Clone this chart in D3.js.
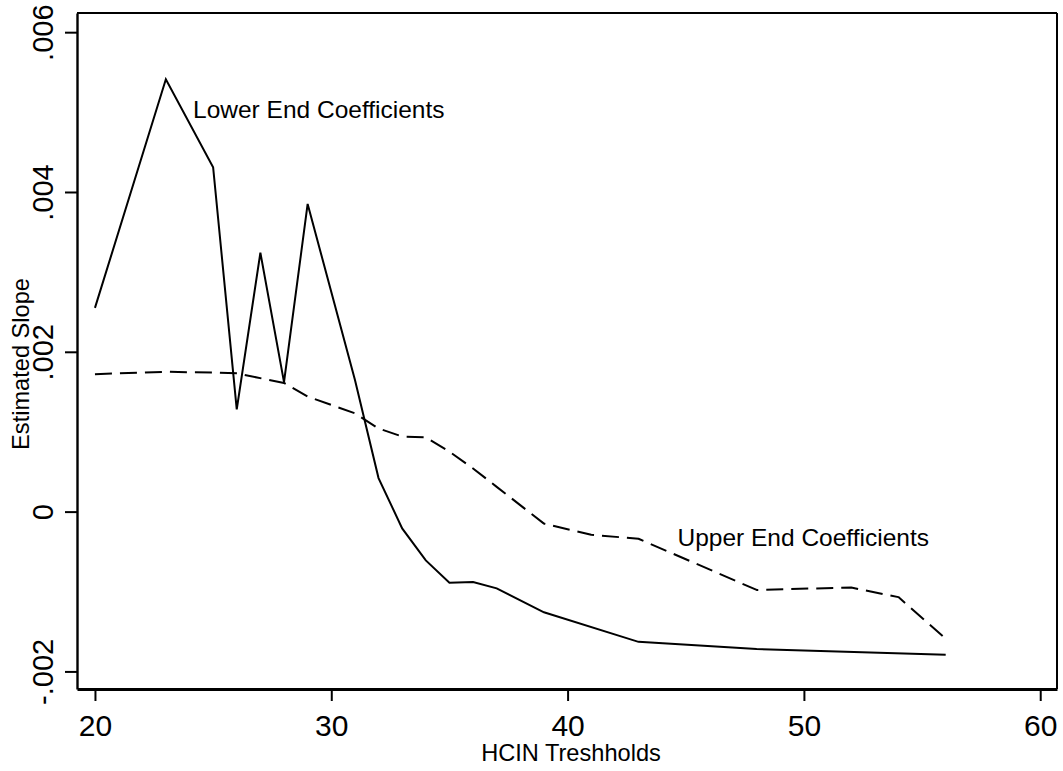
<!DOCTYPE html>
<html>
<head>
<meta charset="utf-8">
<script src="https://cdn.jsdelivr.net/npm/d3@7/dist/d3.min.js"></script>
<style>
  html, body { margin: 0; padding: 0; background: #fff; }
  svg text { font-family: "Liberation Sans", Arial, sans-serif; fill: #000; }
</style>
</head>
<body>
<svg id="chart" width="1063" height="771"></svg>
<script>
// HCIN thresholds and estimated slopes for each end of the distribution
const lowerX = [20, 23, 25, 26, 27, 28, 29, 31, 32, 33, 34, 35, 36, 37, 39, 43, 48, 56];
const lowerY = [0.00255, 0.00541, 0.00431, 0.00128, 0.00324, 0.00162, 0.00385, 0.00165,
                0.00042, -0.00021, -0.00061, -0.00089, -0.00088, -0.00096, -0.00126,
                -0.00163, -0.00172, -0.00179];

const upperX = [20, 23, 25, 26, 28, 29, 31, 32, 33, 34, 35, 36, 37, 39, 41, 43, 48, 52, 54, 56];
const upperY = [0.00172, 0.00175, 0.00174, 0.00173, 0.00161, 0.00144, 0.00123, 0.00104,
                0.00094, 0.00093, 0.00075, 0.00054, 0.00031, -0.00015, -0.00029, -0.00034,
                -0.00098, -0.00095, -0.00107, -0.00159];

const xTicks = [20, 30, 40, 50, 60];
const xTickLabels = ["20", "30", "40", "50", "60"];
const yTicks = [-0.002, 0, 0.002, 0.004, 0.006];
const yTickLabels = ["-.002", "0", ".002", ".004", ".006"];

const xTitle = "HCIN Treshholds";
const yTitle = "Estimated Slope";
const lowerLabel = { text: "Lower End Coefficients", x: 24.15, y: 0.00492 };
const upperLabel = { text: "Upper End Coefficients", x: 44.65, y: -0.00043 };

const W = 1063, H = 771;
const margin = { left: 77, right: 6, top: 13, bottom: 82 };
const svg = d3.select("#chart");

const x = d3.scaleLinear().domain([19.24, 60.71]).range([margin.left, W - margin.right]);
const y = d3.scaleLinear().domain([-0.00222, 0.00624]).range([H - margin.bottom, margin.top]);

// plot frame
svg.append("line").attr("x1", x.range()[0]).attr("x2", x.range()[1])
  .attr("y1", margin.top).attr("y2", margin.top).attr("stroke", "#000").attr("stroke-width", 2);
svg.append("line").attr("x1", W - margin.right).attr("x2", W - margin.right)
  .attr("y1", margin.top).attr("y2", H - margin.bottom).attr("stroke", "#000").attr("stroke-width", 2);

// x axis
const xAxis = svg.append("g")
  .attr("transform", `translate(0,${H - margin.bottom})`)
  .call(d3.axisBottom(x).tickValues(xTicks).tickSize(12).tickSizeOuter(0)
    .tickFormat((d, i) => xTickLabels[i]));
xAxis.select(".domain").attr("stroke-width", 3.2);
xAxis.selectAll(".tick line").attr("stroke-width", 2);
xAxis.selectAll(".tick text")
  .attr("font-size", 30).attr("dy", null).attr("y", 47);

// y axis
const yAxis = svg.append("g")
  .attr("transform", `translate(${margin.left},0)`)
  .call(d3.axisLeft(y).tickValues(yTicks).tickSize(12).tickSizeOuter(0)
    .tickFormat((d, i) => yTickLabels[i]));
yAxis.select(".domain").attr("stroke-width", 2.4);
yAxis.selectAll(".tick line").attr("stroke-width", 2);
yAxis.selectAll(".tick text")
  .attr("font-size", 29).attr("dy", null).attr("x", null)
  .attr("text-anchor", "middle")
  .attr("transform", "translate(-24,0) rotate(-90)");

// axis titles
svg.append("text").attr("x", 571).attr("y", 761)
  .attr("text-anchor", "middle").attr("font-size", 23.6).text(xTitle);
svg.append("text").attr("transform", "translate(29,364) rotate(-90)")
  .attr("text-anchor", "middle").attr("font-size", 23.6).text(yTitle);

// series
const line = d3.line().x(d => x(d[0])).y(d => y(d[1]));
const lowerData = lowerX.map((v, i) => [v, lowerY[i]]);
const upperData = upperX.map((v, i) => [v, upperY[i]]);

svg.append("path").datum(upperData).attr("d", line)
  .attr("fill", "none").attr("stroke", "#000").attr("stroke-width", 2)
  .attr("stroke-dasharray", "17,8").attr("stroke-linejoin", "round");
svg.append("path").datum(lowerData).attr("d", line)
  .attr("fill", "none").attr("stroke", "#000").attr("stroke-width", 2)
  .attr("stroke-linejoin", "miter");

// series labels
[lowerLabel, upperLabel].forEach(l => {
  svg.append("text").attr("x", x(l.x)).attr("y", y(l.y))
    .attr("font-size", 24.5).text(l.text);
});
</script>
</body>
</html>
